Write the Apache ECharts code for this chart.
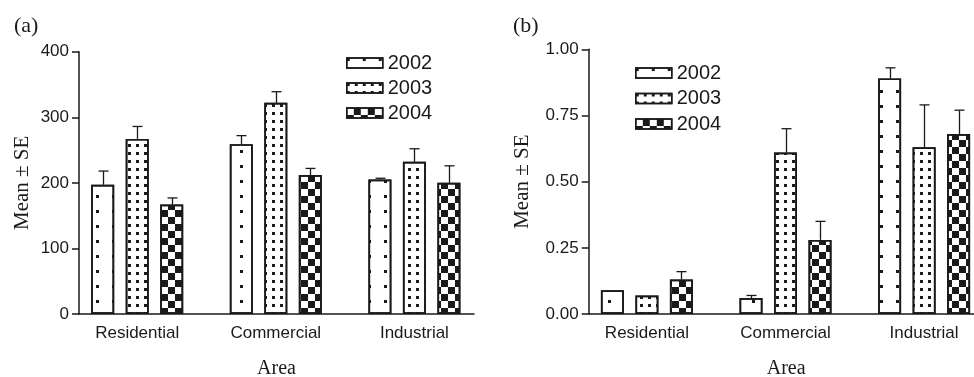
<!DOCTYPE html>
<html>
<head>
<meta charset="utf-8">
<script src="https://cdn.jsdelivr.net/npm/echarts@6/dist/echarts.min.js"></script>
<style>
html,body{margin:0;padding:0;background:#fff;}
#chart{width:974px;height:377px;}
</style>
</head>
<body>
<div id="chart"></div>
<script>
// ---- data ----
const categories = ['Residential', 'Commercial', 'Industrial'];
const years = ['2002', '2003', '2004'];

// panel (a)
const a2002 = [197, 259, 205];
const a2003 = [267, 322, 232];
const a2004 = [167, 212, 200];
const aSE2002 = [21, 13, 2];
const aSE2003 = [19, 17, 20];
const aSE2004 = [10, 10, 26];
const aTicks = [0, 100, 200, 300, 400];

// panel (b)
const b2002 = [0.09, 0.06, 0.89];
const b2003 = [0.07, 0.61, 0.63];
const b2004 = [0.13, 0.28, 0.68];
const bSE2002 = [0, 0.01, 0.04];
const bSE2003 = [0, 0.09, 0.16];
const bSE2004 = [0.03, 0.07, 0.09];
const bTicks = [0, 0.25, 0.5, 0.75, 1.0];

// ---- styles ----
const INK = '#1a1a1a';
const SANS = "'Liberation Sans', Arial, Helvetica, sans-serif";
const SERIF = "'Liberation Serif', 'Times New Roman', serif";
const BAR_W = 23;
const BAR_GAP = 0.5;
const decals = [
  {symbol: 'rect', symbolSize: 1, color: INK, dashArrayX: [3, 13], dashArrayY: [3, 11.3]},
  {symbol: 'rect', symbolSize: 1, color: INK, dashArrayX: [3, 4.3], dashArrayY: [3, 4.2]},
  {symbol: 'rect', symbolSize: 1, color: INK, dashArrayX: [[6.5, 6.5], [0, 6.5, 6.5, 0]], dashArrayY: [6.5, 0]}
];

const panels = [
  {vals: [a2002, a2003, a2004], se: [aSE2002, aSE2003, aSE2004], ticks: aTicks,
   grid: {left: 79, top: 51.7, width: 395, height: 262.3, outerBoundsMode: 'none'},
   fmt: v => String(v), nameGap: 46,
   legend: {left: 341, top: 48}},
  {vals: [b2002, b2003, b2004], se: [bSE2002, bSE2003, bSE2004], ticks: bTicks,
   grid: {left: 588.7, top: 49.3, width: 395, height: 264.7, outerBoundsMode: 'none'},
   fmt: v => v.toFixed(2), nameGap: 56,
   legend: {left: 630, top: 58}}
];

const grid = [], xAxis = [], yAxis = [], series = [], legend = [];
panels.forEach((p, pi) => {
  grid.push(p.grid);
  xAxis.push({
    type: 'value', gridIndex: pi, min: -0.42, max: 2.43,
    splitLine: {show: false}, axisTick: {show: false},
    axisLine: {show: true, onZero: false, lineStyle: {color: INK, width: 1.5}},
    axisLabel: {customValues: [0, 1, 2], formatter: v => categories[v], margin: 11,
                color: INK, fontFamily: SANS, fontSize: 17},
    name: 'Area', nameLocation: 'middle', nameGap: 45,
    nameTextStyle: {color: INK, fontFamily: SERIF, fontSize: 20}
  });
  yAxis.push({
    type: 'value', gridIndex: pi, min: p.ticks[0], max: p.ticks[p.ticks.length - 1],
    interval: p.ticks[1] - p.ticks[0],
    splitLine: {show: false},
    axisLine: {show: true, onZero: false, lineStyle: {color: INK, width: 1.5}},
    axisTick: {show: true, length: 7, lineStyle: {color: INK, width: 1.5}},
    axisLabel: {formatter: p.fmt, margin: 10, color: INK, fontFamily: SANS, fontSize: 17},
    name: 'Mean ± SE', nameLocation: 'middle', nameGap: p.nameGap,
    nameTextStyle: {color: INK, fontFamily: SERIF, fontSize: 21}
  });
  years.forEach((yr, si) => {
    series.push({
      type: 'bar', name: yr, xAxisIndex: pi, yAxisIndex: pi,
      barWidth: BAR_W, barGap: (BAR_GAP * 100) + '%',
      data: p.vals[si].map((v, i) => [i, v]),
      itemStyle: {color: '#fff', borderColor: INK, borderWidth: 1.7, decal: decals[si]},
      emphasis: {disabled: true}
    });
  });
  years.forEach((yr, si) => {
    const off = (si - 1) * BAR_W * (1 + BAR_GAP);
    series.push({
      type: 'custom', xAxisIndex: pi, yAxisIndex: pi, z: 5,
      data: p.vals[si].map((v, i) => [i, v, p.se[si][i]]),
      encode: {x: 0, y: 1},
      renderItem: (params, api) => {
        const x = api.value(0), m = api.value(1), se = api.value(2);
        if (!se) return null;
        const p0 = api.coord([x, m]);
        const p1 = api.coord([x, m + se]);
        const cx = Math.round(p0[0] + off) + 0.5;
        const st = {stroke: INK, lineWidth: 1.3};
        return {type: 'group', children: [
          {type: 'line', shape: {x1: cx, y1: p0[1], x2: cx, y2: p1[1]}, style: st},
          {type: 'line', shape: {x1: cx - 5, y1: p1[1], x2: cx + 5, y2: p1[1]}, style: st}
        ]};
      }
    });
  });
  legend.push({
    data: years, orient: 'vertical', left: p.legend.left, top: p.legend.top,
    itemWidth: 36, itemHeight: 10, itemGap: pi === 0 ? 5 : 5.5, icon: 'rect',
    itemStyle: {borderColor: INK, borderWidth: 1.5},
    textStyle: {color: INK, fontFamily: SANS, fontSize: 20, lineHeight: 20},
    selectedMode: false
  });
});

const chart = echarts.init(document.getElementById('chart'), null, {renderer: 'canvas'});
chart.setOption({
  animation: false,
  backgroundColor: '#fff',
  title: [
    {text: '(a)', left: 9, top: 10, textStyle: {fontFamily: SERIF, fontSize: 22, fontWeight: 'normal', color: INK}},
    {text: '(b)', left: 508, top: 10, textStyle: {fontFamily: SERIF, fontSize: 22, fontWeight: 'normal', color: INK}}
  ],
  grid, xAxis, yAxis, series, legend
});
</script>
</body>
</html>
